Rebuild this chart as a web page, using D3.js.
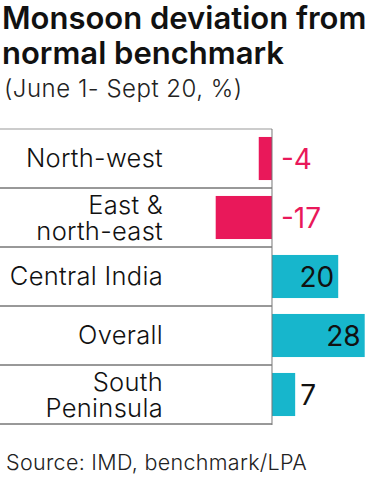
<!DOCTYPE html>
<html>
<head>
<meta charset="utf-8">
<script src="https://cdn.jsdelivr.net/npm/d3@7"></script>
<style>
  body { margin: 0; background: #fff; }
  svg { display: block; font-family: Inter, "Noto Sans", sans-serif; }
</style>
</head>
<body>
<div id="chart"></div>
<script>
var regions = ["North-west", "East & north-east", "Central India", "Overall", "South Peninsula"];
var regionLines = [["North-west"], ["East &", "north-east"], ["Central India"], ["Overall"], ["South", "Peninsula"]];
var deviation = [-4, -17, 20, 28, 7];
var titleLines = ["Monsoon deviation from", "normal benchmark"];
var subtitle = "(June 1- Sept 20, %)";
var source = "Source: IMD, benchmark/LPA";

var width = 374,
  height = 478,
  red = "#e9185a",
  teal = "#17b6cc";

var svg = d3.select("#chart").append("svg")
  .attr("width", width)
  .attr("height", height);

// title block
svg.selectAll("text.title")
  .data(titleLines)
  .enter().append("text")
  .attr("class", "title")
  .attr("x", 2)
  .attr("y", function (d, i) { return 29 + i * 35; })
  .attr("font-size", 31)
  .attr("font-weight", 600)
  .attr("fill", "#111")
  .text(function (d) { return d; });

svg.append("text")
  .attr("x", 4)
  .attr("y", 97)
  .attr("font-size", 24)
  .attr("font-weight", 300)
  .attr("letter-spacing", 0.5)
  .attr("fill", "#222")
  .text(subtitle);

var x = d3.scaleLinear()
  .domain([-17, 28])
  .range([215.7, 364.7]);

var y = d3.scaleBand()
  .domain(regions)
  .range([129, 424])
  .paddingInner(0.27)
  .paddingOuter(0.135);

var gap = y.step() * 0.27 / 2;

// row separators
svg.selectAll("line.row")
  .data(regions.concat(["end"]))
  .enter().append("line")
  .attr("class", "row")
  .attr("x1", 0)
  .attr("x2", x(0))
  .attr("y1", function (d, i) { return i < regions.length ? y(d) - gap : y.range()[1]; })
  .attr("y2", function (d, i) { return i < regions.length ? y(d) - gap : y.range()[1]; })
  .attr("stroke", function (d, i) { return i === 0 ? "#999" : "#333"; })
  .attr("stroke-width", 1);

svg.selectAll("rect.bar")
  .data(deviation)
  .enter().append("rect")
  .attr("class", "bar")
  .attr("x", function (d) { return x(Math.min(0, d)); })
  .attr("y", function (d, i) { return y(regions[i]); })
  .attr("width", function (d) { return Math.abs(x(d) - x(0)); })
  .attr("height", y.bandwidth())
  .attr("fill", function (d) { return d < 0 ? red : teal; });

// zero line
svg.append("line")
  .attr("x1", x(0))
  .attr("x2", x(0))
  .attr("y1", y.range()[0])
  .attr("y2", y.range()[1] + 1)
  .attr("stroke", "#777")
  .attr("stroke-width", 1);

// category labels, one text per line
regionLines.forEach(function (lines, i) {
  var c = y(regions[i]) + y.bandwidth() / 2;
  svg.selectAll(null)
    .data(lines)
    .enter().append("text")
    .attr("class", "cat")
    .attr("text-anchor", "end")
    .attr("x", 163)
    .attr("y", function (t, j) { return lines.length === 1 ? c + 8 : c - 4 + j * 26; })
    .attr("font-size", 25.5)
    .attr("font-weight", 300)
    .attr("letter-spacing", 0.3)
    .attr("fill", "#111")
    .text(function (t) { return t; });
});

// value labels
svg.selectAll("text.val")
  .data(deviation)
  .enter().append("text")
  .attr("class", "val")
  .attr("font-size", 28)
  .attr("font-weight", 400)
  .attr("y", function (d, i) { return y(regions[i]) + y.bandwidth() / 2 + 10; })
  .attr("x", function (d) {
    if (d < 0) { return x(0) + 9; }
    if (d < 10) { return x(d) + 5; }
    return x(d) - 4;
  })
  .attr("text-anchor", function (d) { return d >= 10 ? "end" : "start"; })
  .attr("fill", function (d) { return d < 0 ? red : "#111"; })
  .text(function (d) { return d; });

svg.append("text")
  .attr("x", 6)
  .attr("y", 470)
  .attr("font-size", 21.5)
  .attr("font-weight", 300)
  .attr("letter-spacing", 0.3)
  .attr("fill", "#222")
  .text(source);
</script>
</body>
</html>
